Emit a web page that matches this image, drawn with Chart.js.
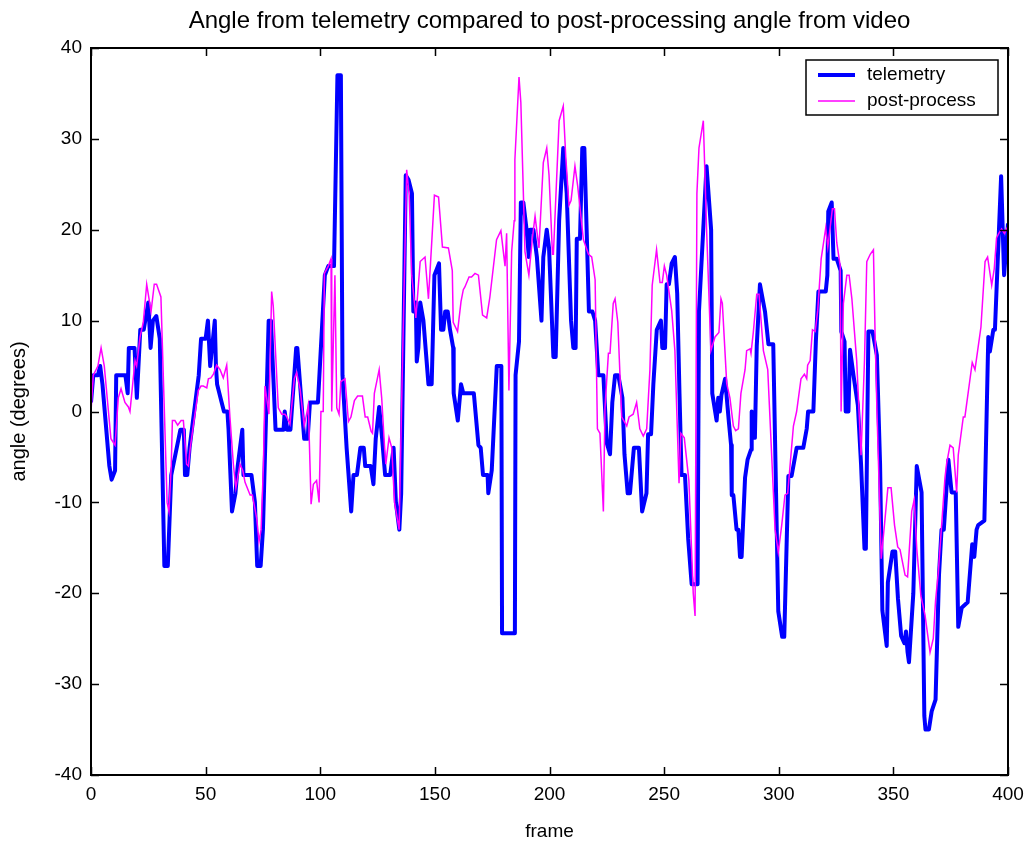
<!DOCTYPE html>
<html lang="en">
<head>
  <meta charset="UTF-8">
  <title>Angle from telemetry compared to post-processing angle from video</title>
  <style>
    html, body {
      margin: 0;
      padding: 0;
      background: #ffffff;
    }
    #wrap {
      width: 1028px;
      height: 843px;
    }
  </style>
</head>
<body>
  <div id="wrap">
    <canvas id="angleChart" width="1028" height="843"></canvas>
  </div>

  <script src="https://cdn.jsdelivr.net/npm/chart.js"></script>
  <script>
    // telemetry angle (degrees) at the frames where the trace turns
    const telemetryFrames = [0, 1, 3, 4, 5, 8, 9, 10.5, 11, 15, 16, 16.5, 19, 20, 21.5, 23, 25, 26, 27, 28.5, 30, 32, 33.5, 35, 39, 40.5, 41, 42, 43, 45, 47, 48, 50, 51, 52, 53, 54, 54.5, 55, 57, 58, 59.5, 60, 61.5, 63, 64, 66, 66.5, 70, 71.5, 72.5, 74, 75, 77.5, 78.5, 80.5, 84, 84.5, 85.5, 87, 89.5, 90, 93, 94.5, 95.5, 99, 102, 103.5, 106, 107.5, 109, 109.7, 111.5, 113.5, 114.5, 116, 117.5, 119, 119.6, 122, 123.2, 124.2, 125.7, 127, 128.3, 130.5, 132, 133, 134.5, 135.3, 137.3, 138.5, 140, 140.6, 141.7, 142.1, 142.8, 143.6, 145, 147.2, 148.6, 149.8, 151.8, 152.7, 153.7, 154.5, 155.6, 156.6, 158, 158.2, 160, 161.4, 162.4, 167, 169, 170, 171, 173, 173.3, 174.8, 177, 179, 179.3, 184.9, 185.2, 186.7, 187.5, 188.6, 190, 191, 191.5, 193, 194.5, 196.5, 197.3, 198.8, 199.8, 201.7, 202.7, 204.2, 206, 207.5, 209.4, 210.4, 211.4, 211.9, 213.3, 214.3, 215.2, 216.2, 217.2, 218.7, 219.9, 221.3, 223.5, 225, 226.4, 227.4, 228.6, 230, 231.8, 232.7, 234.1, 235.1, 236.8, 239, 240.4, 242.3, 243, 244.3, 245.3, 246.8, 248.6, 249.2, 250.4, 251.1, 252.1, 253.3, 254.7, 255.7, 256.7, 257.6, 259.1, 260.5, 262, 264.6, 265.2, 268.5, 270.5, 271, 272.9, 273.6, 274.3, 275, 276.6, 278.3, 279.2, 279.5, 280.2, 281.6, 282.4, 283.1, 283.8, 285.3, 286.4, 287.9, 288.2, 288.9, 289.6, 290.4, 291.8, 294, 295.5, 297.6, 299.8, 301.5, 302.4, 304.2, 305.6, 307.8, 310.7, 312.2, 312.8, 315.1, 316.2, 317.3, 320.5, 321.2, 321.6, 323.1, 323.9, 325.3, 327, 327.3, 328.7, 329.2, 330.4, 331.1, 332.6, 334.5, 335.9, 337.4, 338, 339.1, 340.9, 342.8, 344.2, 345.2, 347.1, 347.6, 349.6, 350.8, 352, 353.4, 354.8, 355.5, 356.2, 356.8, 357.7, 358.7, 360.2, 362.3, 363.5, 364, 365.5, 366.7, 368.4, 369.9, 371, 372, 374, 375.4, 377.2, 378.3, 379.8, 382.4, 384.4, 385.3, 386.3, 387, 389.7, 391.4, 392.1, 393.6, 394.3, 397, 398.3, 400];
    const telemetryAngles = [1, 4, 4, 5, 3, -6, -7.5, -6.5, 4, 4, 2, 7, 7, 1.5, 9, 9, 12, 7, 10, 10.5, 8, -17, -17, -7, -2, -2, -7, -7, -4, 0, 4, 8, 8, 10, 5, 7.5, 10, 5, 3, 1, 0, 0, -2, -11, -9, -6, -2, -7, -7, -10, -17, -17, -13, 10, 10, -2, -2, 0, -2, -2, 7, 7, -3, -3, 1, 1, 15, 16, 16, 37, 37, 4, -4, -11, -7, -7, -4, -4, -6, -6, -8, -3, 0.5, -3, -7, -7, -4, -10, -13, -9, 26, 25.5, 24, 11, 12, 5.5, 7, 12, 10, 3, 3, 15, 16.3, 9, 9, 11, 11, 9, 7, 2, -1, 3, 2, 2, -3.7, -4, -7, -7, -9, -6.5, 5, 5, -24.4, -24.4, 4, 7.7, 23, 23, 20, 17, 20, 20, 17, 10, 17, 20, 18, 6, 6, 21, 29, 24, 10, 7, 7, 19, 19, 29, 29, 20, 11, 11, 10, 4, 4, -3.5, -4.7, 1, 4, 4, 1.5, -4.7, -9, -9, -4, -4, -11, -9, -2.5, -2.5, 3, 9, 10, 7, 7, 14, 14, 16.3, 17, 13, 2, -7, -7, -14, -19, -19, 11, 27, 20, 2, -1, 1.5, 0, 1.8, 3.6, -1.3, -3.7, -9.2, -9.2, -13, -13, -16, -16, -7.3, -5.3, -4.2, 0, -1.6, -2.9, 7.2, 14, 11, 7.4, 7.4, -22, -24.8, -24.8, -7.1, -7.1, -4, -4, -1.9, 0, 0, 7.8, 13.2, 13.2, 15, 22, 23, 16.8, 16.8, 15.5, 8.8, 7.7, 0, 0, 6.8, 4, 0.7, -5.8, -15.1, -15.1, 8.8, 8.8, 6.2, -5.8, -21.9, -25.8, -18.8, -15.4, -15.4, -20.6, -24.7, -25.5, -24.2, -26.5, -27.6, -24, -20, -6, -8.9, -33.5, -35, -35, -33, -31.7, -18, -13, -13, -5.3, -8.9, -8.9, -23.7, -21.6, -21, -14.6, -16, -13, -12.5, -12, 8.2, 6.6, 9, 9, 25.9, 15, 20.7];

    // angle measured afterwards from the video
    const postFrames = [0, 1, 3, 4.4, 5.8, 8.7, 10.5, 11.9, 13.1, 14.8, 16.3, 17, 19.2, 19.9, 21.4, 22.8, 24.3, 26.2, 27.6, 28.6, 30.5, 33.2, 34, 35, 35.5, 36.6, 37.8, 39.3, 40.3, 41.7, 42.5, 43.2, 44.6, 46.8, 48, 49, 50.5, 51.2, 52.3, 53.4, 54.8, 56.3, 57.7, 59.2, 60.6, 62.1, 63.2, 65, 66.2, 67.2, 69.4, 70.4, 72.3, 73.3, 74.2, 75.2, 75.9, 77.6, 78.8, 79.5, 81.7, 83.2, 84.6, 85.4, 86.8, 88.7, 89.7, 91.2, 93, 94.8, 96, 97, 98.4, 99.5, 100.3, 101.3, 101.8, 103.5, 104.7, 105, 106.4, 107.2, 108.2, 109, 110.8, 112.3, 113.4, 114.9, 116.3, 118.4, 119.6, 120.7, 122.2, 122.8, 123.6, 125.7, 126.8, 128, 128.6, 130, 131.2, 132.4, 134.4, 135.8, 137.7, 138.8, 139.9, 141.1, 141.7, 143.6, 145.7, 147.2, 148.6, 149.8, 151.6, 153.3, 155.9, 157.6, 158, 159.9, 161.4, 162.4, 163.1, 164.9, 166, 167.5, 169, 170.8, 172.6, 174, 176.9, 178.8, 180.6, 181.3, 182.3, 183.5, 184.6, 184.9, 186.7, 187.5, 189.3, 191, 192.5, 193.7, 195.4, 197.3, 198.8, 199.8, 201.3, 201.7, 204.2, 206, 207.1, 208.5, 209.4, 211.1, 212.3, 214.8, 217, 218.4, 219.9, 220.9, 222, 223.5, 224.2, 225.7, 226.4, 227.8, 228.6, 229.8, 231.5, 233.7, 234.7, 236.5, 238, 239.4, 240.9, 242.4, 243.8, 244.8, 246.7, 248.2, 249.2, 250.1, 251.1, 253.3, 254.7, 256.5, 257.3, 258.8, 260.8, 262.7, 263.5, 264.3, 265.2, 267.1, 268.5, 270.4, 272.2, 273.9, 274.8, 275.4, 277.3, 278.7, 280.2, 281.2, 282.4, 283.5, 285.3, 286, 287.5, 287.9, 288.9, 290.4, 291.4, 293.3, 295.2, 298.4, 299.8, 301.3, 302.7, 303.9, 306.4, 307.8, 309.7, 311.2, 312.2, 312.6, 313.7, 314.7, 315.9, 317, 318.5, 320.5, 321.4, 323.4, 324.3, 325.3, 326.8, 327.2, 328.2, 329.7, 330.7, 331.9, 334, 335.9, 337.4, 338.4, 339.9, 341.3, 342, 342.8, 344.7, 346.1, 347.6, 349, 350.5, 351.9, 352.9, 355.1, 356.2, 358, 359.1, 360.2, 362, 363.8, 366, 367.4, 368.4, 369.6, 372.5, 373.2, 374.7, 376.1, 377.6, 378.3, 380.5, 381.2, 384.4, 385.6, 388.2, 390, 391.1, 392.9, 394, 395, 396, 397.2, 398.4, 399.4, 400];
    const postAngles = [0, 4, 5, 7, 5, -3, -3.7, 1.5, 2.5, 1, 0.5, 0, 5.6, 5, 8.2, 9.8, 14, 11, 14, 14, 12.6, -10, -11, -6, -1, -1, -1.5, -1, -1, -5.8, -6, -4.2, -1.6, 2.3, 2.8, 2.8, 2.6, 3.6, 3.7, 4.1, 5.1, 4.6, 3.7, 5.1, -0.6, -5.8, -8.4, -5.8, -6.5, -7.8, -9.2, -9.2, -11.8, -14.3, -13, -6, 2.8, -0.3, 13.2, 11.6, 0.4, -0.3, -0.3, -0.6, -1.4, 3.6, 4.3, 2.5, -1.6, 0.7, -10.2, -8, -7.6, -10, 0, 0, 15.2, 16, 16.8, 0, 15, 0.4, -0.3, 3.3, 3.6, -1.1, -0.6, 1.2, 1.7, 1.7, -0.6, -0.6, -2.2, -2.4, 2, 4.6, 1.5, -3.7, -5.8, -2.9, -4, -10, -13, 4.6, 26.6, 23.8, 15, 11.9, 10.3, 16.5, 17, 12.4, 18.5, 23.8, 23.6, 18.1, 18, 15.5, 9.8, 8.8, 12.1, 13.4, 13.7, 14.8, 14.8, 15.2, 15, 10.6, 10.3, 12.6, 18.9, 19.9, 16, 19.6, 2.3, 17.6, 21, 27.7, 36.8, 34, 17.6, 15, 19, 21.5, 18, 27.4, 29, 26, 17.3, 17.3, 32, 33.6, 28, 22.7, 23.2, 27, 24.8, 18.9, 17.3, 17, 14.5, -1.9, -2.4, -11, 0.4, 6.4, 6.4, 11.9, 12.4, 9.8, -0.6, -1.6, -0.6, -0.3, 1, -1.9, -2.7, -1.9, 4.6, 13.9, 17.8, 14.2, 14.2, 16, 15, 11.1, 6.7, -7.9, -2.4, -2.9, -7.6, -20, -22.5, 24, 29, 32, 20.2, 6.7, 8.2, 8.7, 12.4, 11.9, 3.1, 1.5, -1.6, -2.1, -1.9, 2, 4.6, 6.7, 6.9, 6.4, 8.7, 12.9, 12.9, 6.7, 4.6, -13, -15.5, -12.5, -9.2, -9, -1.6, 0, 3.6, 4.1, 3.6, 5.1, 5.6, 9, 8.8, 11.1, 16.8, 20.2, 18.1, 22.3, 22.3, 18.6, 16, 0, 11.9, 15, 15, 12.4, 5.6, -4.8, 5.6, 16.5, 17.3, 17.8, 8.8, 0.4, -16.2, -12.5, -8.4, -8.4, -12.5, -14.9, -15.2, -18, -18.2, -11, -9.7, -15.1, -20.3, -22.4, -26.5, -25, -20.8, -17.7, -7.3, -5.8, -3.7, -4, -8.9, -4.8, -0.6, -0.6, 5.4, 4.6, 9.3, 16.5, 17, 13.9, 15.7, 19.1, 19.6, 20.1, 19.6, 20.1, 20.4];

    const frameTicks = [0, 50, 100, 150, 200, 250, 300, 350, 400];
    const angleTicks = [-40, -30, -20, -10, 0, 10, 20, 30, 40];
    const chartTitle = 'Angle from telemetry compared to post-processing angle from video';

    const FONT = "'Liberation Sans', Arial, Helvetica, sans-serif";

    function toPoints(xs, ys) {
      return xs.map((x, i) => ({ x: x, y: ys[i] }));
    }

    // MATLAB style box: inward ticks on all four sides, title over the axes, legend inside
    const matlabBox = {
      id: 'matlabBox',
      afterDatasetsDraw(chart) {
        const { ctx, chartArea: a, scales } = chart;
        const len = 8;
        ctx.save();
        ctx.strokeStyle = '#000';
        ctx.lineWidth = 1.5;
        ctx.beginPath();
        frameTicks.forEach(v => {
          const px = Math.round(scales.x.getPixelForValue(v)) + 0.5;
          ctx.moveTo(px, a.bottom); ctx.lineTo(px, a.bottom - len);
          ctx.moveTo(px, a.top); ctx.lineTo(px, a.top + len);
        });
        angleTicks.forEach(v => {
          const py = Math.round(scales.y.getPixelForValue(v)) + 0.5;
          ctx.moveTo(a.left, py); ctx.lineTo(a.left + len, py);
          ctx.moveTo(a.right, py); ctx.lineTo(a.right - len, py);
        });
        ctx.stroke();
        ctx.lineWidth = 2;
        ctx.strokeRect(a.left, a.top, a.right - a.left, a.bottom - a.top);

        // title, centred over the plot box
        ctx.fillStyle = '#000';
        ctx.font = '24px ' + FONT;
        ctx.textAlign = 'center';
        ctx.textBaseline = 'middle';
        ctx.fillText(chartTitle, (a.left + a.right) / 2, 21);

        // legend
        const lx = 806, ly = 60, lw = 192, lh = 55;
        ctx.fillStyle = '#fff';
        ctx.fillRect(lx, ly, lw, lh);
        ctx.lineWidth = 1.5;
        ctx.strokeRect(lx, ly, lw, lh);
        ctx.font = '19px ' + FONT;
        ctx.textBaseline = 'middle';
        ctx.textAlign = 'left';
        chart.data.datasets.forEach((ds, i) => {
          const yy = ly + 15 + i * 26;
          ctx.strokeStyle = ds.borderColor;
          ctx.lineWidth = ds.borderWidth;
          ctx.beginPath();
          ctx.moveTo(lx + 12, yy);
          ctx.lineTo(lx + 49, yy);
          ctx.stroke();
          ctx.fillStyle = '#000';
          ctx.fillText(ds.label, lx + 61, yy);
        });
        ctx.restore();
      }
    };

    new Chart(document.getElementById('angleChart'), {
      type: 'line',
      data: {
        datasets: [{
          label: 'telemetry',
          data: toPoints(telemetryFrames, telemetryAngles),
          borderColor: '#0000ff',
          borderWidth: 4,
          borderJoinStyle: 'round',
          pointRadius: 0,
          tension: 0,
          order: 2
        }, {
          label: 'post-process',
          data: toPoints(postFrames, postAngles),
          borderColor: '#ff00ff',
          borderWidth: 1.5,
          pointRadius: 0,
          tension: 0,
          order: 1
        }]
      },
      options: {
        responsive: false,
        animation: false,
        layout: { padding: { left: 0, right: 20, top: 48, bottom: 0 } },
        plugins: {
          legend: { display: false },
          tooltip: { enabled: false },
          title: { display: false }
        },
        scales: {
          x: {
            type: 'linear',
            min: 0,
            max: 400,
            afterFit: s => { s.height = 68; s.paddingLeft = 0; s.paddingRight = 0; },
            afterBuildTicks: s => { s.ticks = frameTicks.map(v => ({ value: v })); },
            grid: { display: false, drawTicks: false },
            border: { display: false },
            ticks: {
              color: '#000',
              padding: 8,
              autoSkip: false,
              maxRotation: 0,
              font: { family: FONT, size: 19 }
            },
            title: {
              display: true,
              text: 'frame',
              color: '#000',
              font: { family: FONT, size: 19 },
              padding: { top: 0, bottom: 0 }
            }
          },
          y: {
            min: -40,
            max: 40,
            afterFit: s => { s.width = 91; s.paddingTop = 0; s.paddingBottom = 0; },
            afterBuildTicks: s => { s.ticks = angleTicks.map(v => ({ value: v })); },
            grid: { display: false, drawTicks: false },
            border: { display: false },
            ticks: {
              color: '#000',
              padding: 9,
              font: { family: FONT, size: 19 }
            },
            title: {
              display: true,
              text: 'angle (degrees)',
              color: '#000',
              font: { family: FONT, size: 20 },
              padding: { top: 7, bottom: 0 }
            }
          }
        }
      },
      plugins: [matlabBox]
    });
  </script>
</body>
</html>
